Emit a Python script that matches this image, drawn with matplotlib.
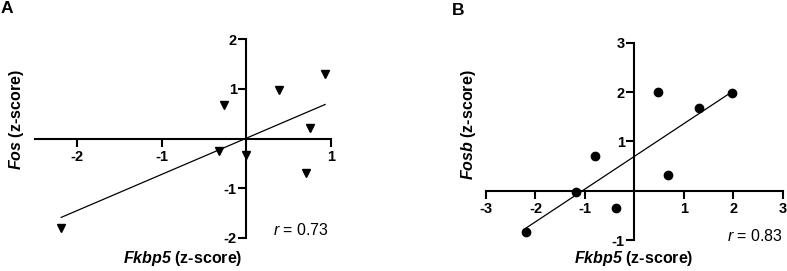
import numpy as np
import matplotlib
matplotlib.use("Agg")
import matplotlib.pyplot as plt

plt.rcParams["font.family"] = ["Liberation Sans", "DejaVu Sans"]
plt.rcParams["mathtext.fontset"] = "custom"
plt.rcParams["mathtext.rm"] = "Liberation Sans"
plt.rcParams["mathtext.it"] = "Liberation Sans:italic"
plt.rcParams["mathtext.bf"] = "Liberation Sans:bold"
plt.rcParams["mathtext.bfit"] = "Liberation Sans:italic:bold"

# Panel A: Fkbp5 vs Fos (z-scores)
fkbp5_a = [-2.19, -0.26, -0.33, 0.00, 0.39, 0.93, 0.75, 0.70]
fos = [-1.81, 0.67, -0.26, -0.34, 0.97, 1.30, 0.21, -0.69]
r_a = 0.73

# Panel B: Fkbp5 vs Fosb (z-scores)
fkbp5_b = [-2.19, -1.19, -0.79, -0.38, 0.48, 0.68, 1.30, 1.97]
fosb = [-0.83, -0.03, 0.70, -0.35, 2.01, 0.32, 1.68, 1.98]
r_b = 0.83

xticks_a = [-2, -1, 1]
yticks_a = [-2, -1, 1, 2]
xticks_b = [-3, -2, -1, 1, 2, 3]
yticks_b = [-1, 1, 2, 3]

W, H = 787, 271
fig = plt.figure(figsize=(W / 100, H / 100), dpi=100)


def px_axes(x0, x1, y_top, y_bot):
    return fig.add_axes([x0 / W, 1 - y_bot / H, (x1 - x0) / W, (y_bot - y_top) / H])


def style_axes(ax, xlim, ylim, xticks, yticks):
    ax.set_xlim(xlim)
    ax.set_ylim(ylim)
    for s in ["top", "right"]:
        ax.spines[s].set_visible(False)
    for s in ["left", "bottom"]:
        ax.spines[s].set_position(("data", 0))
        ax.spines[s].set_linewidth(1.5)
    ax.set_xticks(xticks)
    ax.set_yticks(yticks)
    ax.set_xticklabels([str(t) for t in xticks])
    ax.set_yticklabels([str(t) for t in yticks])
    ax.tick_params(axis="both", direction="out", length=5.5, width=1.5,
                   labelsize=10.5)
    ax.tick_params(axis="x", pad=3)
    ax.tick_params(axis="y", pad=1.5)
    for lab in ax.get_xticklabels() + ax.get_yticklabels():
        lab.set_fontweight("bold")
    ax.patch.set_visible(False)


def add_fit(ax, x, y):
    x = np.asarray(x)
    y = np.asarray(y)
    slope, icpt = np.polyfit(x, y, 1)
    xx = np.array([x.min(), x.max()])
    ax.plot(xx, slope * xx + icpt, color="black", lw=0.9, clip_on=False)


# ---- Panel A
ax_a = px_axes(35, 331, 39.3, 237.7)
style_axes(ax_a, (-2.5, 1), (-2, 2), xticks_a, yticks_a)
add_fit(ax_a, fkbp5_a, fos)
ax_a.plot(fkbp5_a, fos, "v", color="black", ms=6, clip_on=False, zorder=5)
ax_a.text(0.32, -1.85, rf"$\mathit{{r}}$ = {r_a:.2f}",
          fontsize=11.5, ha="left", va="center")

# ---- Panel B
ax_b = px_axes(486, 782.7, 42.7, 240)
style_axes(ax_b, (-3, 3), (-1, 3), xticks_b, yticks_b)
add_fit(ax_b, fkbp5_b, fosb)
ax_b.plot(fkbp5_b, fosb, "o", color="black", ms=6, clip_on=False, zorder=5)
ax_b.text(3.0, -0.92, rf"$\mathit{{r}}$ = {r_b:.2f}",
          fontsize=11.5, ha="right", va="center")

# ---- Labels
lab_kw = dict(fontsize=11.5, fontweight="bold", ha="center", va="center")
fig.text(182.5 / W, 1 - 258 / H, r"$\mathbfit{Fkbp5}$ (z-score)", **lab_kw)
fig.text(634 / W, 1 - 259 / H, r"$\mathbfit{Fkbp5}$ (z-score)", **lab_kw)
fig.text(17 / W, 1 - 120 / H, r"$\mathbfit{Fos}$ (z-score)", rotation=90, **lab_kw)
fig.text(469 / W, 1 - 125 / H, r"$\mathbfit{Fosb}$ (z-score)", rotation=90, **lab_kw)

fig.text(1 / W, 1 - 1 / H, "A", fontsize=12.5, fontweight="bold", ha="left", va="top")
fig.text(452 / W, 1 - 3 / H, "B", fontsize=12.5, fontweight="bold", ha="left", va="top")

fig.savefig("out.png", dpi=100)
